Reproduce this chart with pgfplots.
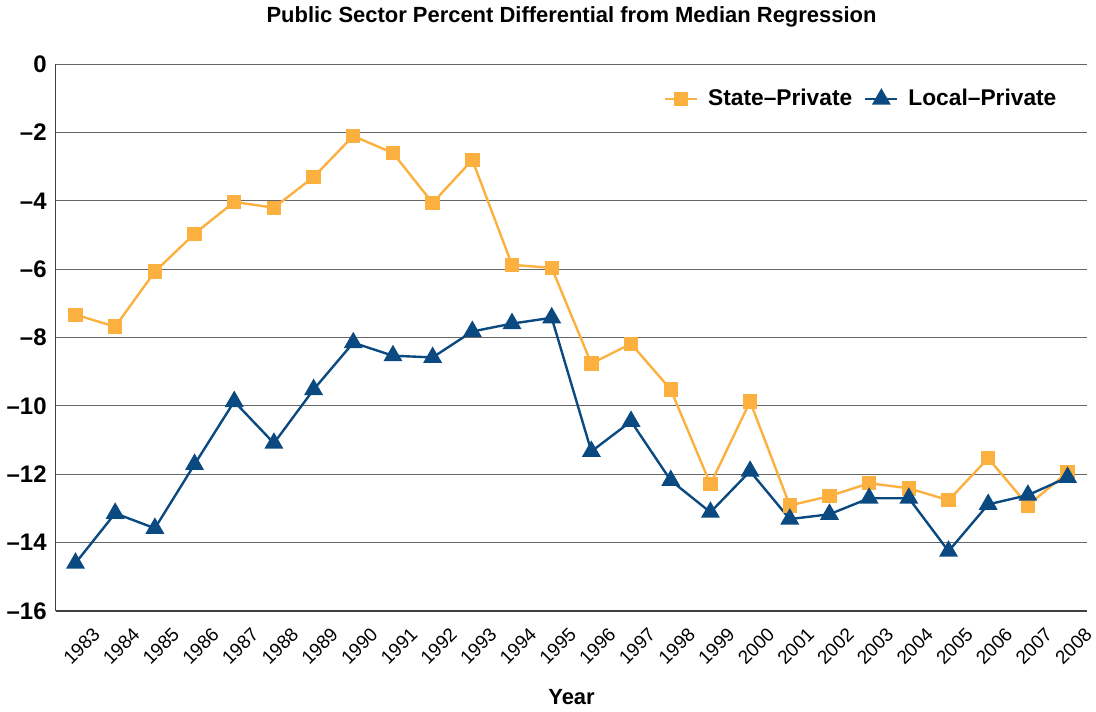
\documentclass[border=0pt]{standalone}
\usepackage{pgfplots}
\pgfplotsset{compat=1.18}
\usepackage{fontspec}
\setmainfont{Liberation Sans}
\definecolor{stateC}{HTML}{FBB040}
\definecolor{localC}{HTML}{0B4A80}
\begin{document}
\begin{tikzpicture}
\begin{axis}[
  scale only axis,
  width=517pt, height=274pt,
  xmin=1982.5, xmax=2008.5,
  ymin=-16, ymax=0,
  ytick={-16,-14,...,0},
  yticklabels={\textbf{–16},\textbf{–14},\textbf{–12},\textbf{–10},\textbf{–8},\textbf{–6},\textbf{–4},\textbf{–2},\textbf{0}},
  xtick={1983,...,2008},
  xticklabels={1983,1984,1985,1986,1987,1988,1989,1990,1991,1992,1993,1994,1995,1996,1997,1998,1999,2000,2001,2002,2003,2004,2005,2006,2007,2008},
  x tick label style={rotate=45, anchor=north east, font=\fontsize{9.5}{10}\selectfont, inner sep=1pt, yshift=-10pt, xshift=1.5pt},
  y tick label style={font=\fontsize{12}{14}\selectfont\bfseries, xshift=-1pt},
  ymajorgrids,
  grid style={black!60, line width=0.5pt},
  axis x line*=bottom,
  axis y line*=left,
  axis line style={black!75, line width=0.7pt},
  major tick length=0pt,
  title={\fontsize{11}{13}\selectfont\bfseries Public Sector Percent Differential from Median Regression},
  title style={yshift=9pt},
  xlabel={\fontsize{11}{13}\selectfont\bfseries Year},
  xlabel style={yshift=-7pt},
  legend style={draw=none, at={(0.98,0.936)}, anchor=east, legend columns=2, font=\fontsize{11.4}{13}\selectfont\bfseries, column sep=3pt, /tikz/every even column/.append style={column sep=4pt}},
  legend image code/.code={\draw[#1, mark repeat=2, mark phase=2] plot coordinates {(0cm,0cm) (0.28cm,0cm) (0.56cm,0cm)};},
  legend cell align=left,
]
\addplot[color=stateC, line width=1.2pt, mark=square*, mark size=3pt, mark options={solid, fill=stateC}] coordinates {
(1983,-7.33) (1984,-7.68) (1985,-6.07) (1986,-4.96) (1987,-4.03) (1988,-4.20)
(1989,-3.30) (1990,-2.10) (1991,-2.60) (1992,-4.06) (1993,-2.80) (1994,-5.87)
(1995,-5.96) (1996,-8.76) (1997,-8.18) (1998,-9.52) (1999,-12.29) (2000,-9.87)
(2001,-12.91) (2002,-12.64) (2003,-12.26) (2004,-12.41) (2005,-12.76) (2006,-11.53)
(2007,-12.91) (2008,-11.94)};
\addlegendentry{State–Private}
\addplot[color=localC, line width=1.2pt, mark=triangle*, mark size=4.3pt, mark options={solid, fill=localC}] coordinates {
(1983,-14.60) (1984,-13.14) (1985,-13.58) (1986,-11.71) (1987,-9.87) (1988,-11.09)
(1989,-9.52) (1990,-8.15) (1991,-8.53) (1992,-8.58) (1993,-7.82) (1994,-7.59)
(1995,-7.42) (1996,-11.33) (1997,-10.45) (1998,-12.18) (1999,-13.11) (2000,-11.91)
(2001,-13.31) (2002,-13.17) (2003,-12.70) (2004,-12.70) (2005,-14.25) (2006,-12.88)
(2007,-12.61) (2008,-12.09)};
\addlegendentry{Local–Private}
\end{axis}
\end{tikzpicture}
\end{document}
